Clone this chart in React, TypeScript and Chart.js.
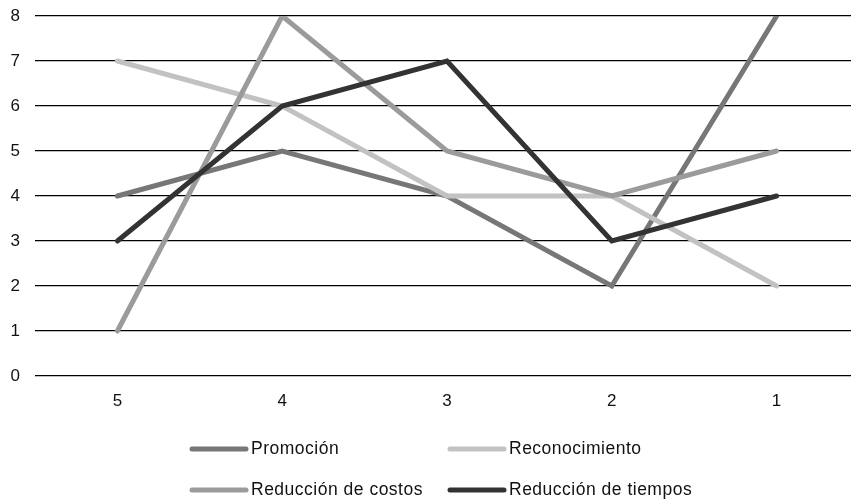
import { useEffect, useRef } from "react";
import { Chart, registerables } from "chart.js";

Chart.register(...registerables);

// Categories along the x axis (ranking position)
const categories = ["5", "4", "3", "2", "1"];

// Series values per category
const promocion = [4, 5, 4, 2, 8];
const reconocimiento = [7, 6, 4, 4, 2];
const reduccionCostos = [1, 8, 5, 4, 5];
const reduccionTiempos = [3, 6, 7, 3, 4];

const seriesNames = [
  "Promoción",
  "Reconocimiento",
  "Reducción de costos",
  "Reducción de tiempos",
];
const seriesValues = [promocion, reconocimiento, reduccionCostos, reduccionTiempos];
const seriesColors = ["#777777", "#c2c2c2", "#9b9b9b", "#333333"];

const yMin = 0;
const yMax = 8;

const FONT_FAMILY = "'Liberation Sans', Arial, Helvetica, sans-serif";

// Two-column legend drawn beneath the plot
const gridLegend = {
  id: "gridLegend",
  afterDraw(chart: any) {
    const ctx: CanvasRenderingContext2D = chart.ctx;
    const cols = [190, 448];
    const rows = [449, 490];
    chart.data.datasets.forEach((ds: any, i: number) => {
      const x = cols[i % 2];
      const y = rows[Math.floor(i / 2)];
      ctx.save();
      ctx.strokeStyle = ds.borderColor;
      ctx.lineWidth = 5;
      ctx.lineCap = "round";
      ctx.beginPath();
      ctx.moveTo(x + 2, y);
      ctx.lineTo(x + 56, y);
      ctx.stroke();
      ctx.fillStyle = "#111111";
      ctx.font = `17.5px ${FONT_FAMILY}`;
      (ctx as any).letterSpacing = "0.5px";
      ctx.textBaseline = "middle";
      ctx.textAlign = "left";
      ctx.fillText(ds.label, x + 61, y);
      ctx.restore();
    });
  },
};

export default function App() {
  const canvasRef = useRef<HTMLCanvasElement | null>(null);

  useEffect(() => {
    document.body.style.overflow = "hidden";
    const canvas = canvasRef.current;
    if (!canvas) return;

    const chart = new Chart(canvas, {
      type: "line",
      data: {
        labels: categories,
        datasets: seriesNames.map((name, i) => ({
          label: name,
          data: seriesValues[i],
          borderColor: seriesColors[i],
          backgroundColor: seriesColors[i],
          borderWidth: 5,
          borderJoinStyle: "miter" as const,
          borderCapStyle: "round" as const,
          pointRadius: 0,
          pointHoverRadius: 0,
          tension: 0,
          fill: false,
          order: seriesNames.length - 1 - i,
        })),
      },
      options: {
        responsive: false,
        animation: false,
        events: [],
        layout: { padding: { top: 16, left: 0, right: 0, bottom: 0 } },
        plugins: {
          legend: { display: false },
          tooltip: { enabled: false },
        },
        scales: {
          x: {
            offset: true,
            grid: { display: false, drawTicks: false },
            border: { display: false },
            ticks: {
              padding: 15,
              color: "#111111",
              font: { family: FONT_FAMILY, size: 17 },
            },
            afterFit(scale: any) {
              scale.height = 128;
            },
          },
          y: {
            min: yMin,
            max: yMax,
            grid: { color: "#000000", lineWidth: 1.3, drawTicks: false },
            border: { display: false },
            ticks: {
              stepSize: 1,
              padding: 15,
              color: "#111111",
              font: { family: FONT_FAMILY, size: 17 },
            },
            afterFit(scale: any) {
              scale.width = 35;
              scale.paddingTop = 0;
              scale.paddingBottom = 0;
            },
          },
        },
      },
      plugins: [gridLegend],
    });

    return () => chart.destroy();
  }, []);

  return (
    <div
      style={{
        position: "absolute",
        left: 0,
        top: 0,
        width: 859,
        height: 504,
        background: "#ffffff",
      }}
    >
      <canvas ref={canvasRef} width={859} height={504} />
    </div>
  );
}
